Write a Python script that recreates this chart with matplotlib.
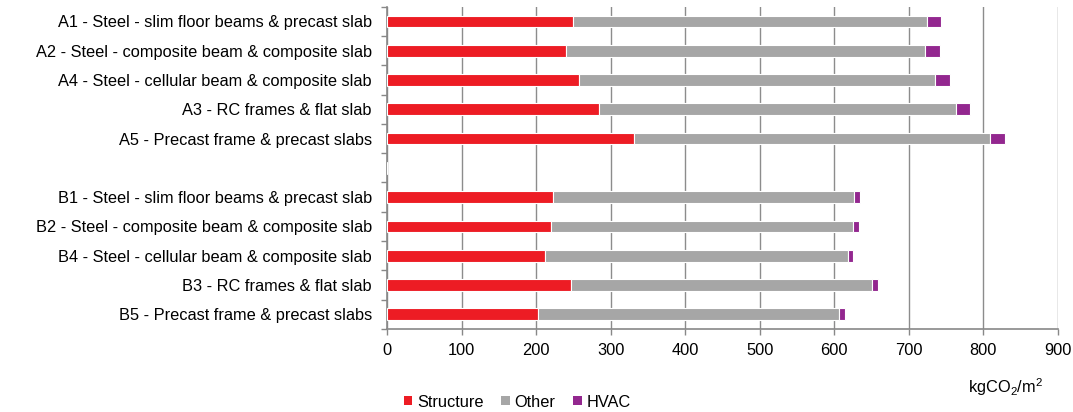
import matplotlib
matplotlib.use("Agg")
import matplotlib.pyplot as plt
import numpy as np
from matplotlib.patches import Patch

plt.rcParams['font.family'] = ['Liberation Sans', 'DejaVu Sans']
plt.rcParams['mathtext.fontset'] = 'custom'
plt.rcParams['mathtext.rm'] = 'Liberation Sans'
plt.rcParams['mathtext.it'] = 'Liberation Sans:italic'

# embodied carbon per building option, kgCO2/m2
labels_a = ["A1 - Steel - slim floor beams & precast slab",
            "A2 - Steel - composite beam & composite slab",
            "A4 - Steel - cellular beam & composite slab",
            "A3 - RC frames & flat slab",
            "A5 - Precast frame & precast slabs"]
labels_b = ["B1 - Steel - slim floor beams & precast slab",
            "B2 - Steel - composite beam & composite slab",
            "B4 - Steel - cellular beam & composite slab",
            "B3 - RC frames & flat slab",
            "B5 - Precast frame & precast slabs"]

structure_a = [250, 240, 258, 285, 332]
other_a = [474, 482, 478, 478, 477]
hvac_a = [19, 20, 20, 19, 20]

structure_b = [223, 220, 212, 247, 202]
other_b = [404, 406, 406, 404, 405]
hvac_b = [8, 8, 8, 8, 8]

# blank row between the two groups
labels = labels_a + [""] + labels_b
structure = np.array(structure_a + [0] + structure_b)
other = np.array(other_a + [0] + other_b)
hvac = np.array(hvac_a + [0] + hvac_b)

c_struct = "#ED1C24"
c_other = "#A6A6A6"
c_hvac = "#93278F"

fs = 11.8

fig = plt.figure(figsize=(10.73, 4.12), dpi=100)
ax = fig.add_axes([0.3607, 0.2015, 0.6250, 0.7822])

y = np.arange(len(labels))
h = 0.4
kw = dict(height=h, edgecolor="white", linewidth=0.8, zorder=3)
ax.barh(y, structure, color=c_struct, **kw)
ax.barh(y, other, left=structure, color=c_other, **kw)
ax.barh(y, hvac, left=structure + other, color=c_hvac, **kw)

ax.set_ylim(len(labels) - 0.5, -0.5)
ax.set_xlim(0, 900)
ax.set_xticks(np.arange(0, 901, 100))
ax.set_yticks(y)
ax.set_yticklabels(labels)
ax.set_yticks(np.arange(-0.5, len(labels), 1), minor=True)

ax.tick_params(axis="y", which="major", length=0, pad=11, labelsize=fs, colors="black")
ax.tick_params(axis="y", which="minor", length=4, color="#888888", width=1)
ax.tick_params(axis="x", which="major", length=4, color="#888888", width=1,
               labelsize=fs, pad=6)

ax.grid(axis="x", color="#8C8C8C", linewidth=1.0, zorder=0)
ax.set_axisbelow(True)
for side in ["top", "right"]:
    ax.spines[side].set_visible(False)
for side in ["left", "bottom"]:
    ax.spines[side].set_color("#888888")
    ax.spines[side].set_linewidth(1.2)

fig.text(0.937, 0.06, r"kgCO$_2$/m$^2$", ha="center", va="center", fontsize=fs)

handles = [Patch(facecolor=c_struct, label="Structure"),
           Patch(facecolor=c_other, label="Other"),
           Patch(facecolor=c_hvac, label="HVAC")]
fig.legend(handles=handles, loc="center", bbox_to_anchor=(0.482, 0.024), ncol=3,
           frameon=False, fontsize=fs, handlelength=0.5, handleheight=0.5,
           handletextpad=0.3, columnspacing=1.1, borderpad=0)

fig.savefig("out.png", dpi=100)
